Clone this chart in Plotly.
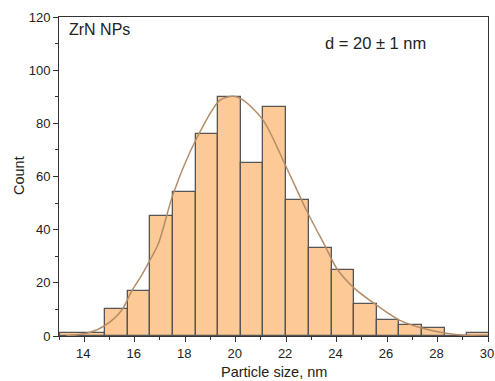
import numpy as np
import plotly.graph_objects as go

# Histogram data (bin edges in nm, counts)
bin_edges = [13.03, 14.83, 15.72, 16.62, 17.52, 18.41, 19.31, 20.20, 21.10,
             22.00, 22.90, 23.80, 24.70, 25.60, 26.49, 27.39, 28.28, 29.18, 30.08]
counts = [1, 10, 17, 45, 54, 76, 90, 65, 86, 51, 33, 25, 12, 6, 4, 3, 0, 1]

# Fitted distribution curve
fit_x = [13.3, 13.64, 14.17, 14.83, 15.49, 15.88, 16.28, 16.61, 16.94, 17.53,
         18.45, 19.38, 19.9, 20.3, 21.09, 21.94, 22.8, 23.59, 24.0, 24.71,
         25.57, 26.49, 27.41, 28.33, 29.26, 30.0]
fit_y = [0.1, 0.4, 1.2, 4.0, 9.8, 16.9, 22.9, 28.6, 34.8, 53.6,
         74.3, 88.7, 90.2, 88.7, 81.2, 64.9, 47.4, 33.0, 25.5, 17.9,
         11.7, 6.0, 2.9, 1.0, 0.2, 0.0]

x_ticks = [14, 16, 18, 20, 22, 24, 26, 28, 30]
y_ticks = [0, 20, 40, 60, 80, 100, 120]

edges = np.array(bin_edges)
centers = (edges[:-1] + edges[1:]) / 2
widths = edges[1:] - edges[:-1]

FONT = "Arial, Liberation Sans, sans-serif"
W, H = 495, 381
ML, MR, MT, MB = 59, 7, 17, 45
PW, PH = W - ML - MR, H - MT - MB

fig = go.Figure()
fig.add_trace(go.Bar(
    x=centers, y=counts, width=widths,
    marker=dict(color="#FDC996", line=dict(color="#555555", width=1.3)),
    showlegend=False,
))
fig.add_trace(go.Scatter(
    x=fit_x, y=fit_y, mode="lines",
    line=dict(color="#B48D68", width=1.5, shape="spline", smoothing=0.8),
    showlegend=False,
))

axis_common = dict(
    showline=True, linecolor="#333333", linewidth=1, mirror=True,
    ticks="outside", ticklen=5, tickwidth=1, tickcolor="#333333",
    showgrid=False, zeroline=False, ticklabeloverflow="allow", automargin=False,
    tickfont=dict(family=FONT, size=13, color="#222222"),
)

def px_x(p):
    return (p - ML) / PW

def px_y(p):
    return 1 - (p - MT) / PH

fig.update_layout(
    width=W, height=H,
    margin=dict(l=ML, r=MR, t=MT, b=MB),
    paper_bgcolor="white", plot_bgcolor="white",
    bargap=0,
    xaxis=dict(range=[13, 30], tickvals=x_ticks, ticklabelshift=-1,
               minor=dict(ticks="outside", dtick=1, tick0=13, ticklen=3, tickcolor="#333333"),
               **axis_common),
    yaxis=dict(range=[0, 120], tickvals=y_ticks,
               minor=dict(ticks="outside", dtick=10, tick0=0, ticklen=3, tickcolor="#333333"),
               **axis_common),
    annotations=[
        dict(text="Particle size, nm", xref="paper", yref="paper", x=px_x(274), y=px_y(372),
             xanchor="center", yanchor="middle", showarrow=False,
             font=dict(family=FONT, size=14.5, color="#222222")),
        dict(text="Count", xref="paper", yref="paper", x=px_x(19), y=px_y(176),
             xanchor="center", yanchor="middle", showarrow=False, textangle=-90,
             font=dict(family=FONT, size=14.5, color="#222222")),
        dict(text="ZrN NPs", xref="paper", yref="paper", x=px_x(67), y=px_y(30),
             xanchor="left", yanchor="middle", showarrow=False,
             font=dict(family=FONT, size=16, color="#222222")),
        dict(text="d = 20 ± 1 nm", xref="paper", yref="paper", x=px_x(428), y=px_y(43),
             xanchor="right", yanchor="middle", showarrow=False,
             font=dict(family=FONT, size=16.5, color="#222222")),
    ],
)

fig.write_html("out.html")
